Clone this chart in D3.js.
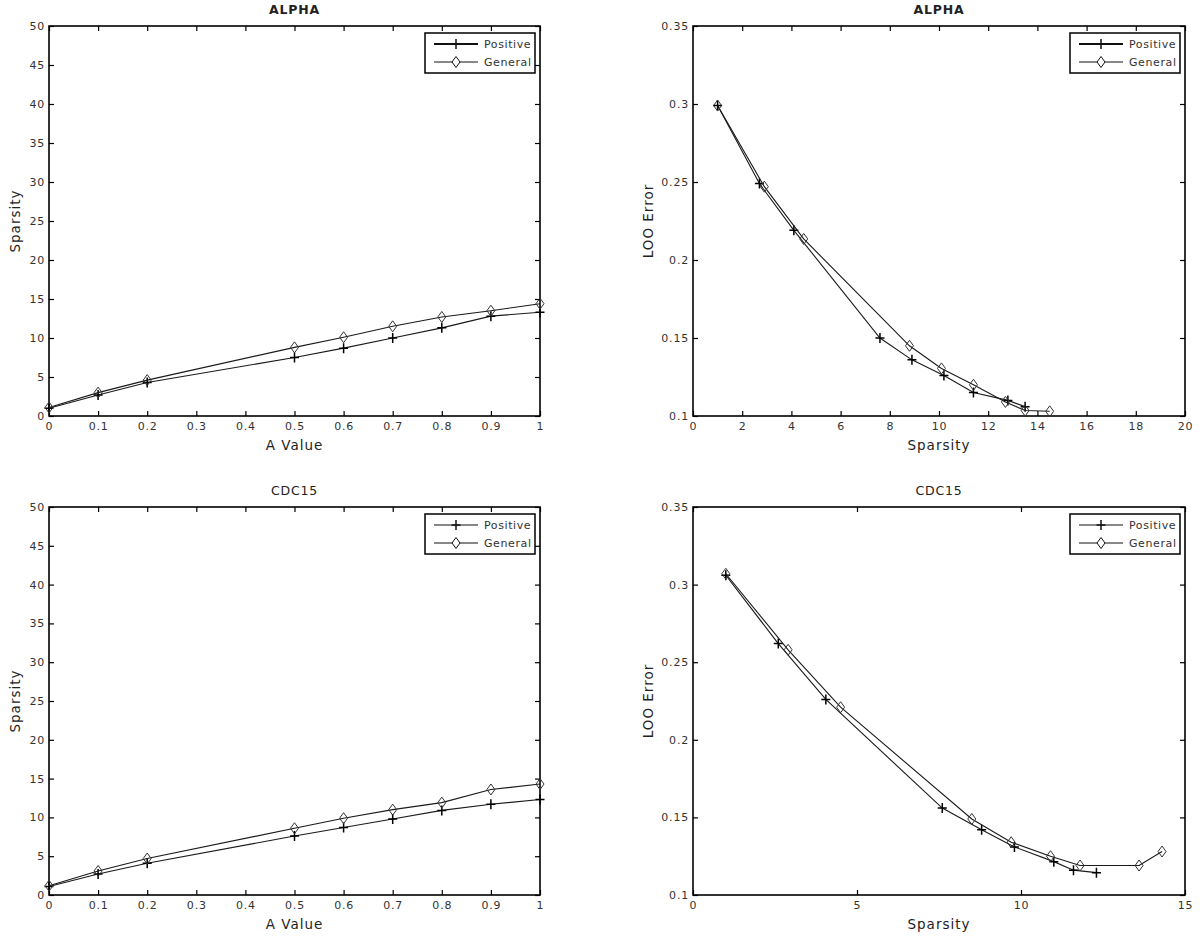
<!DOCTYPE html>
<html>
<head>
<meta charset="utf-8">
<script src="https://cdn.jsdelivr.net/npm/d3@7"></script>
<style>
  body { margin: 0; background: #fff; }
  svg text { font-family: "DejaVu Sans", sans-serif; }
</style>
</head>
<body>
<script>
// ---- data ----
var a_values = [0, 0.1, 0.2, 0.5, 0.6, 0.7, 0.8, 0.9, 1];
var alpha_pos_sparsity = [1.0, 2.7, 4.3, 7.5, 8.7, 10.0, 11.3, 12.8, 13.3];
var alpha_gen_sparsity = [1.1, 3.0, 4.6, 8.8, 10.1, 11.5, 12.7, 13.5, 14.4];
var cdc_pos_sparsity   = [1.1, 2.7, 4.1, 7.6, 8.7, 9.8, 10.9, 11.7, 12.3];
var cdc_gen_sparsity   = [1.2, 3.1, 4.7, 8.6, 9.9, 11.0, 11.9, 13.6, 14.3];

var alpha_pos_sp  = [1.0, 2.7, 4.1, 7.6, 8.9, 10.2, 11.4, 12.8, 13.5];
var alpha_pos_err = [0.299, 0.249, 0.219, 0.150, 0.136, 0.126, 0.115, 0.110, 0.106];
var alpha_gen_sp  = [1.0, 2.9, 4.5, 8.8, 10.1, 11.4, 12.7, 13.5, 14.5];
var alpha_gen_err = [0.299, 0.247, 0.2135, 0.145, 0.1305, 0.120, 0.109, 0.1035, 0.103];

var cdc_pos_sp  = [1.0, 2.6, 4.05, 7.6, 8.8, 9.8, 11.0, 11.6, 12.3];
var cdc_pos_err = [0.306, 0.262, 0.226, 0.156, 0.142, 0.131, 0.1215, 0.116, 0.1144];
var cdc_gen_sp  = [1.0, 2.9, 4.5, 8.5, 9.7, 10.9, 11.8, 13.6, 14.3];
var cdc_gen_err = [0.307, 0.258, 0.221, 0.149, 0.134, 0.125, 0.119, 0.119, 0.128];

var a_ticks = [0, 0.1, 0.2, 0.3, 0.4, 0.5, 0.6, 0.7, 0.8, 0.9, 1];
var sparsity_ticks = [0, 5, 10, 15, 20, 25, 30, 35, 40, 45, 50];
var err_ticks = [0.1, 0.15, 0.2, 0.25, 0.3, 0.35];
var alpha_sp_ticks = [0, 2, 4, 6, 8, 10, 12, 14, 16, 18, 20];
var cdc_sp_ticks = [0, 5, 10, 15];
var series_names = ["Positive", "General"];

// ---- page ----
var svg = d3.select("body").append("svg")
    .attr("width", 1200)
    .attr("height", 936);

function zip(xs, ys) {
    return xs.map(function (x, i) { return [x, ys[i]]; });
}

var panels = [
    { title: "ALPHA", bold: true, left: 49, right: 540, top: 26, bottom: 416,
      xdom: [0, 1], ydom: [0, 50], xticks: a_ticks, yticks: sparsity_ticks,
      xlabel: "A Value", ylabel: "Sparsity", ylabel_x: 15, legend_thick: true,
      pos: zip(a_values, alpha_pos_sparsity), gen: zip(a_values, alpha_gen_sparsity) },
    { title: "ALPHA", bold: true, left: 693, right: 1185, top: 26, bottom: 416,
      xdom: [0, 20], ydom: [0.1, 0.35], xticks: alpha_sp_ticks, yticks: err_ticks,
      xlabel: "Sparsity", ylabel: "LOO Error", ylabel_x: 648, legend_thick: true,
      pos: zip(alpha_pos_sp, alpha_pos_err), gen: zip(alpha_gen_sp, alpha_gen_err) },
    { title: "CDC15", bold: false, left: 49, right: 540, top: 507, bottom: 895,
      xdom: [0, 1], ydom: [0, 50], xticks: a_ticks, yticks: sparsity_ticks,
      xlabel: "A Value", ylabel: "Sparsity", ylabel_x: 15, legend_thick: false,
      pos: zip(a_values, cdc_pos_sparsity), gen: zip(a_values, cdc_gen_sparsity) },
    { title: "CDC15", bold: false, left: 693, right: 1185, top: 507, bottom: 895,
      xdom: [0, 15], ydom: [0.1, 0.35], xticks: cdc_sp_ticks, yticks: err_ticks,
      xlabel: "Sparsity", ylabel: "LOO Error", ylabel_x: 648, legend_thick: false,
      pos: zip(cdc_pos_sp, cdc_pos_err), gen: zip(cdc_gen_sp, cdc_gen_err) }
];

// plus marker and diamond marker paths, centred on 0,0
var plus_path = "M-4.5,0H4.5M0,-5V5";
var diamond_path = "M0,-5.5L4,0L0,5.5L-4,0Z";

function fmt(d) { return String(+d.toFixed(2)); }

function style_axis(g) {
    g.select(".domain").remove();
    g.selectAll(".tick line").attr("stroke", "#000").attr("stroke-width", 1.2);
    g.selectAll(".tick text")
        .attr("fill", "#333")
        .style("font-size", "11px")
        .style("letter-spacing", "0.8px");
}

function draw_panel(p) {
    var x = d3.scaleLinear().domain(p.xdom).range([p.left, p.right]);
    var y = d3.scaleLinear().domain(p.ydom).range([p.bottom, p.top]);
    var g = svg.append("g");

    // ticks pointing inwards on all four sides
    g.append("g").attr("transform", "translate(0," + p.bottom + ")")
        .call(d3.axisBottom(x).tickValues(p.xticks).tickFormat(fmt)
            .tickSizeInner(-5).tickSizeOuter(0).tickPadding(6))
        .call(style_axis);
    g.append("g").attr("transform", "translate(0," + p.top + ")")
        .call(d3.axisTop(x).tickValues(p.xticks).tickFormat("")
            .tickSizeInner(-5).tickSizeOuter(0))
        .call(style_axis);
    g.append("g").attr("transform", "translate(" + p.left + ",0)")
        .call(d3.axisLeft(y).tickValues(p.yticks).tickFormat(fmt)
            .tickSizeInner(-5).tickSizeOuter(0).tickPadding(4))
        .call(style_axis);
    g.append("g").attr("transform", "translate(" + p.right + ",0)")
        .call(d3.axisRight(y).tickValues(p.yticks).tickFormat("")
            .tickSizeInner(-5).tickSizeOuter(0))
        .call(style_axis);

    // box
    g.append("rect")
        .attr("x", p.left).attr("y", p.top)
        .attr("width", p.right - p.left).attr("height", p.bottom - p.top)
        .attr("fill", "none").attr("stroke", "#000").attr("stroke-width", 1.6);

    // titles
    var cx = (p.left + p.right) / 2;
    g.append("text").attr("x", cx).attr("y", p.top - 12)
        .attr("text-anchor", "middle").attr("fill", "#222")
        .style("font-size", "12.5px").style("letter-spacing", "0.8px")
        .style("font-weight", p.bold ? "bold" : "normal")
        .text(p.title);
    g.append("text").attr("x", cx).attr("y", p.bottom + 34)
        .attr("text-anchor", "middle").attr("fill", "#222")
        .style("font-size", "13.5px").style("letter-spacing", "1px")
        .text(p.xlabel);
    g.append("text")
        .attr("transform", "translate(" + p.ylabel_x + "," + ((p.top + p.bottom) / 2) + ") rotate(-90)")
        .attr("text-anchor", "middle").attr("dy", "0.35em").attr("fill", "#222")
        .style("font-size", "13.5px").style("letter-spacing", "1px")
        .text(p.ylabel);

    // lines and markers
    var line = d3.line().x(function (d) { return x(d[0]); }).y(function (d) { return y(d[1]); });
    [p.pos, p.gen].forEach(function (data, k) {
        g.append("path").datum(data)
            .attr("d", line).attr("fill", "none")
            .attr("stroke", "#1a1a1a").attr("stroke-width", 1.1);
        g.selectAll(null).data(data).enter().append("path")
            .attr("transform", function (d) { return "translate(" + x(d[0]) + "," + y(d[1]) + ")"; })
            .attr("d", k == 0 ? plus_path : diamond_path)
            .attr("fill", "none")
            .attr("stroke", k == 0 ? "#000" : "#333")
            .attr("stroke-width", k == 0 ? 1.5 : 1);
    });

    // legend
    var lx = p.right - 115, ly = p.top + 7;
    g.append("rect").attr("x", lx).attr("y", ly).attr("width", 110).attr("height", 40)
        .attr("fill", "#fff").attr("stroke", "#000").attr("stroke-width", 1.5);
    series_names.forEach(function (name, k) {
        var ry = ly + 11 + k * 18;
        g.append("line").attr("x1", lx + 9).attr("x2", lx + 53).attr("y1", ry).attr("y2", ry)
            .attr("stroke", "#111")
            .attr("stroke-width", (k == 0 && p.legend_thick) ? 2 : 1);
        g.append("path").attr("transform", "translate(" + (lx + 31) + "," + ry + ")")
            .attr("d", k == 0 ? plus_path : diamond_path)
            .attr("fill", k == 0 ? "none" : "#fff").attr("stroke", "#111")
            .attr("stroke-width", k == 0 ? 1.5 : 1);
        g.append("text").attr("x", lx + 59).attr("y", ry).attr("dy", "0.35em")
            .attr("fill", "#333").style("font-size", "11px").style("letter-spacing", "0.6px")
            .text(name);
    });
}

panels.forEach(draw_panel);
</script>
</body>
</html>
